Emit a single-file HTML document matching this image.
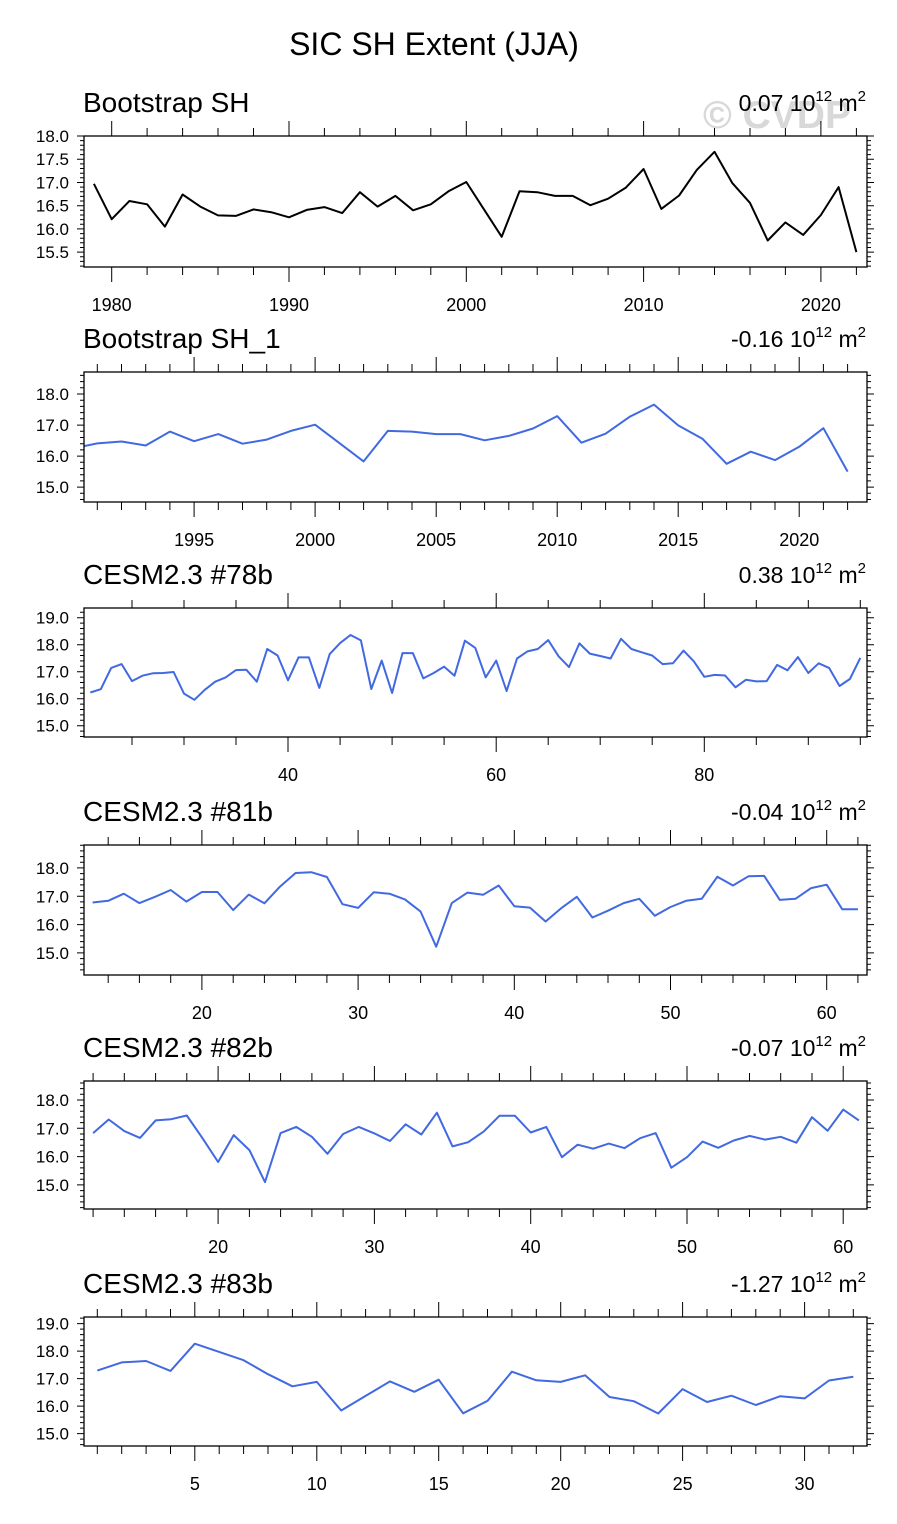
<!DOCTYPE html>
<html><head><meta charset="utf-8"><style>
html,body{margin:0;padding:0;background:#fff;}
svg{display:block;font-family:"Liberation Sans",Arial,sans-serif;}
</style></head><body>
<svg id="chart" width="897" height="1524" viewBox="0 0 897 1524" xmlns="http://www.w3.org/2000/svg">
<text x="434" y="55" font-size="32" text-anchor="middle">SIC SH Extent (JJA)</text>
<text x="777" y="128" font-size="39" font-weight="bold" fill="#d8d8d8" text-anchor="middle">© CVDP</text>
</svg>
<script>
const obsYears = [1979,1980,1981,1982,1983,1984,1985,1986,1987,1988,1989,1990,1991,1992,1993,1994,1995,1996,1997,1998,1999,2000,2001,2002,2003,2004,2005,2006,2007,2008,2009,2010,2011,2012,2013,2014,2015,2016,2017,2018,2019,2020,2021,2022];
const obsValues = [16.97,16.21,16.60,16.53,16.05,16.74,16.48,16.29,16.28,16.42,16.36,16.25,16.41,16.47,16.34,16.79,16.48,16.71,16.40,16.53,16.81,17.01,16.42,15.83,16.81,16.79,16.71,16.71,16.51,16.65,16.89,17.29,16.43,16.72,17.27,17.66,16.99,16.56,15.75,16.14,15.87,16.30,16.90,15.50];
const m78Start = 21;
const m78Values = [16.23,16.35,17.14,17.28,16.65,16.85,16.94,16.95,16.99,16.19,15.96,16.33,16.63,16.79,17.06,17.07,16.63,17.84,17.60,16.68,17.53,17.53,16.40,17.65,18.06,18.36,18.16,16.36,17.41,16.21,17.69,17.69,16.75,16.95,17.19,16.85,18.15,17.88,16.79,17.41,16.28,17.49,17.75,17.84,18.17,17.57,17.17,18.05,17.67,17.58,17.49,18.22,17.84,17.72,17.60,17.28,17.31,17.78,17.38,16.81,16.88,16.86,16.42,16.70,16.64,16.65,17.25,17.05,17.54,16.95,17.31,17.14,16.47,16.73,17.51];
const m81Start = 13;
const m81Values = [16.78,16.84,17.09,16.76,16.98,17.22,16.81,17.15,17.15,16.51,17.06,16.75,17.34,17.82,17.85,17.68,16.72,16.59,17.14,17.09,16.89,16.46,15.22,16.76,17.13,17.05,17.38,16.65,16.60,16.11,16.58,16.98,16.25,16.49,16.76,16.91,16.31,16.62,16.84,16.91,17.69,17.38,17.71,17.72,16.87,16.91,17.29,17.41,16.54,16.54];
const m82Start = 12;
const m82Values = [16.83,17.31,16.90,16.66,17.28,17.32,17.45,16.65,15.81,16.76,16.23,15.10,16.83,17.05,16.70,16.10,16.80,17.05,16.82,16.55,17.14,16.78,17.55,16.36,16.51,16.89,17.44,17.44,16.85,17.05,15.98,16.42,16.28,16.46,16.30,16.65,16.83,15.61,15.98,16.53,16.31,16.57,16.73,16.60,16.70,16.49,17.39,16.91,17.66,17.28];
const m83Start = 1;
const m83Values = [17.29,17.59,17.64,17.28,18.27,17.97,17.67,17.16,16.72,16.88,15.84,16.37,16.90,16.52,16.96,15.74,16.19,17.25,16.94,16.88,17.12,16.33,16.18,15.73,16.62,16.15,16.38,16.04,16.36,16.28,16.93,17.07];
const panelTitles = ["Bootstrap SH","Bootstrap SH_1","CESM2.3 #78b","CESM2.3 #81b","CESM2.3 #82b","CESM2.3 #83b"];
const trendLabels = ["0.07","-0.16","0.38","-0.04","-0.07","-1.27"];
const yTicks1 = [15.5,16.0,16.5,17.0,17.5,18.0];
const yTicksA = [15.0,16.0,17.0,18.0];
const yTicksB = [15.0,16.0,17.0,18.0,19.0];
const xTicks1 = [1980,1990,2000,2010,2020];
const xTicks2 = [1995,2000,2005,2010,2015,2020];
const xTicks3 = [40,60,80];
const xTicks4 = [20,30,40,50,60];
const xTicks6 = [5,10,15,20,25,30];

function seq(start,n){const a=[];for(let i=0;i<n;i++)a.push(start+i);return a;}
const panels = [
 {top:136,bot:267,xmin:1978.44,xmax:2022.6,ymin:15.18,ymax:18.0,xs:obsYears,ys:obsValues,xt:xTicks1,xminor:2,yt:yTicks1,yminor:0.1,color:"#000",dec:1},
 {top:372,bot:502,xmin:1990.45,xmax:2022.8,ymin:14.52,ymax:18.71,xs:obsYears,ys:obsValues,xt:xTicks2,xminor:1,yt:yTicksA,yminor:0.2,color:"#4169e1",dec:1},
 {top:608,bot:737,xmin:20.39,xmax:95.64,ymin:14.58,ymax:19.36,xs:seq(m78Start,m78Values.length),ys:m78Values,xt:xTicks3,xminor:5,yt:yTicksB,yminor:0.2,color:"#4169e1",dec:1},
 {top:845,bot:975,xmin:12.45,xmax:62.58,ymin:14.22,ymax:18.81,xs:seq(m81Start,m81Values.length),ys:m81Values,xt:xTicks4,xminor:2,yt:yTicksA,yminor:0.2,color:"#4169e1",dec:1},
 {top:1081,bot:1209,xmin:11.42,xmax:61.52,ymin:14.15,ymax:18.67,xs:seq(m82Start,m82Values.length),ys:m82Values,xt:xTicks4,xminor:2,yt:yTicksA,yminor:0.2,color:"#4169e1",dec:1},
 {top:1317,bot:1446,xmin:0.455,xmax:32.56,ymin:14.55,ymax:19.24,xs:seq(m83Start,m83Values.length),ys:m83Values,xt:xTicks6,xminor:1,yt:yTicksB,yminor:0.2,color:"#4169e1",dec:1}
];
const NS="http://www.w3.org/2000/svg";
const svg=document.getElementById('chart');
function el(tag,attrs,parent){const e=document.createElementNS(NS,tag);for(const k in attrs)e.setAttribute(k,attrs[k]);(parent||svg).appendChild(e);return e;}
const L=84,R=867;
panels.forEach((p,i)=>{
  const g=el('g',{});
  
  
  const sx=v=>L+(v-p.xmin)/(p.xmax-p.xmin)*(R-L);
  const sy=v=>p.bot-(v-p.ymin)/(p.ymax-p.ymin)*(p.bot-p.top);
  const t=el('text',{x:83,y:p.top-24,'font-size':28},g);
  t.textContent=panelTitles[i];
  
  
  const tr=el('text',{x:866,y:p.top-25,'font-size':23,'text-anchor':'end'},g);
  tr.innerHTML=trendLabels[i]+' 10<tspan dy="-10" font-size="15">12</tspan><tspan dy="10"> m</tspan><tspan dy="-10" font-size="15">2</tspan>';
  
  
  const cp=el('clipPath',{id:'clip'+i},g);
  el('rect',{x:L,y:p.top,width:R-L,height:p.bot-p.top},cp);
  let d='';
  const xs0=Math.ceil(p.xmin/p.xminor)*p.xminor;
  for(let v=xs0;v<=p.xmax+1e-9;v+=p.xminor){
    const x=sx(v).toFixed(1);
    const major=p.xt.some(m=>Math.abs(m-v)<1e-6);
    const len=major?15:8;
    d+=`M${x},${p.bot}v${len}M${x},${p.top}v${-len}`;
  }
  const ys0=Math.ceil(p.ymin/p.yminor-1e-9)*p.yminor;
  for(let v=ys0;v<=p.ymax+1e-9;v+=p.yminor){
    const y=sy(v).toFixed(1);
    const major=p.yt.some(m=>Math.abs(m-v)<1e-6);
    const len=major?7:4;
    d+=`M${L},${y}h${-len}M${R},${y}h${len}`;
  }
  const tk=el('path',{d:d,stroke:'#000','stroke-width':1,fill:'none'},g);
  
  
  p.xt.forEach(v=>{
    const lb=el('text',{x:sx(v),y:p.bot+44,'font-size':18,'text-anchor':'middle'},g);
    lb.textContent=String(v);
    
    
  });
  p.yt.forEach(v=>{
    const lb=el('text',{x:69,y:sy(v)+6,'font-size':17,'text-anchor':'end'},g);
    lb.textContent=v.toFixed(p.dec);
    
    
  });
  const pts=p.xs.map((x,j)=>sx(x).toFixed(1)+','+sy(p.ys[j]).toFixed(1)).join(' ');
  const ln=el('polyline',{points:pts,fill:'none',stroke:p.color,'stroke-width':2,'stroke-linejoin':'round','clip-path':`url(#clip${i})`},g);
  
  
  const bx=el('rect',{x:L,y:p.top,width:R-L,height:p.bot-p.top,fill:'none',stroke:'#000','stroke-width':1.3},g);
  
  
});
</script>
</body></html>
